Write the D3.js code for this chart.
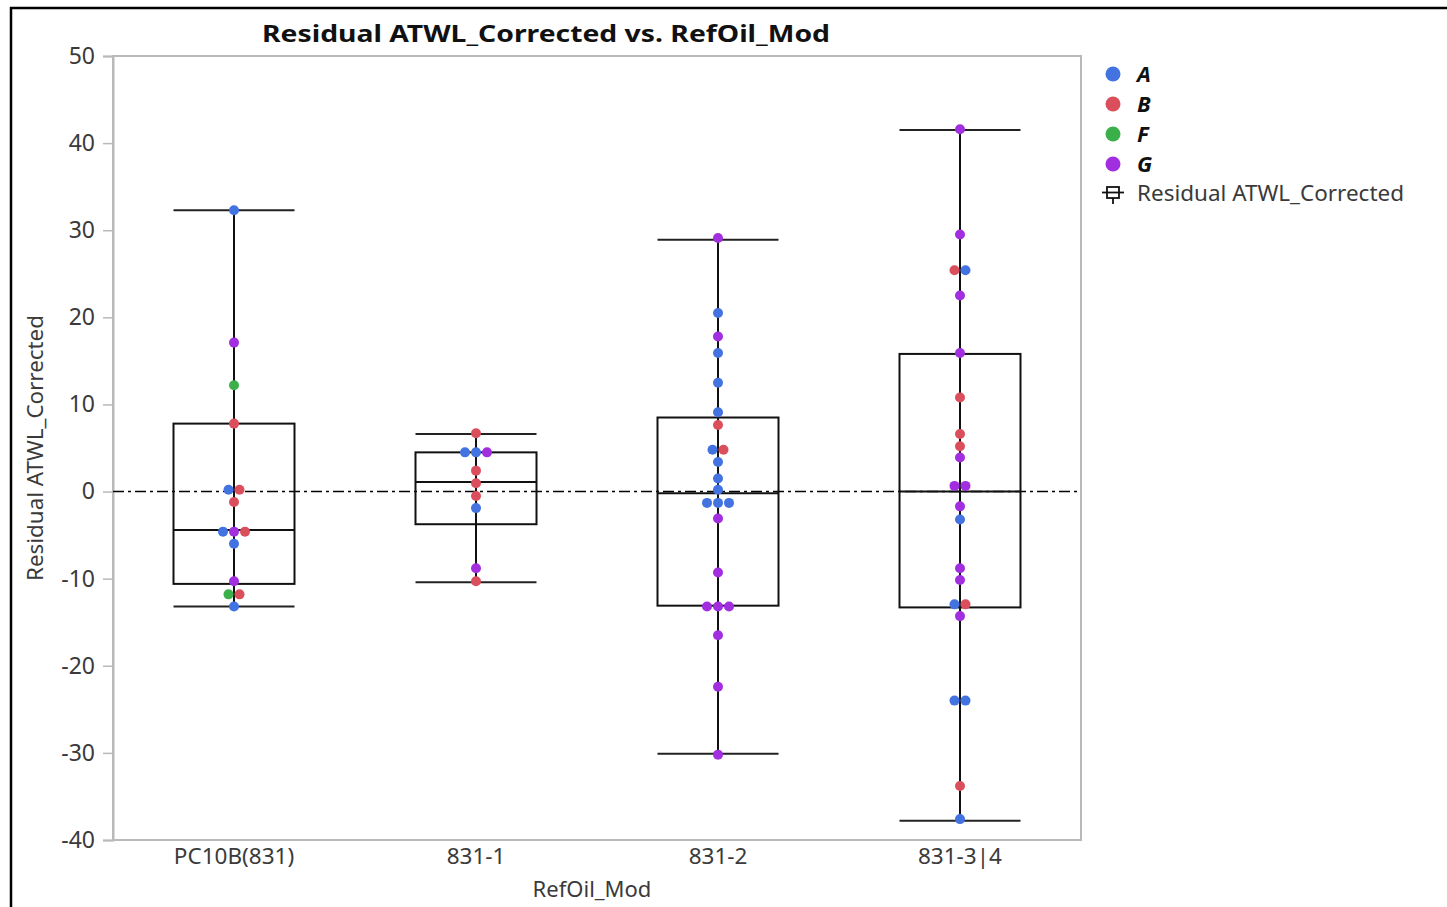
<!DOCTYPE html>
<html>
<head>
<meta charset="utf-8">
<script src="https://cdn.jsdelivr.net/npm/d3@7"></script>
<style>
	body{ margin:0; background:#fff; }
	svg{ display:block; }
</style>
</head>
<body>
<svg id="chart" width="1447" height="907"></svg>
<script>
const categories = ["PC10B(831)", "831-1", "831-2", "831-3|4"];
const groups = ["A", "B", "F", "G"];
const groupColors = ["#4373e0", "#db4f5c", "#3bb04a", "#a12fe0"];
const yTicks = [50, 40, 30, 20, 10, 0, -10, -20, -30, -40];

// box stats, one entry per category
const whiskerLow = [-13.2, -10.4, -30.1, -37.8];
const quartile1 = [-10.6, -3.75, -13.1, -13.3];
const medians = [-4.4, 1.1, -0.2, 0];
const quartile3 = [7.8, 4.5, 8.5, 15.8];
const whiskerHigh = [32.3, 6.6, 28.9, 41.5];

// points per category: [value, group], order inside a row goes left to right
const pointsPC10B = [[32.3,"A"],[17.1,"G"],[12.2,"F"],[7.8,"B"],[0.2,"A"],[0.2,"B"],[-1.2,"B"],
	[-4.6,"A"],[-4.6,"G"],[-4.6,"B"],[-6.0,"A"],[-10.3,"G"],[-11.8,"F"],[-11.8,"B"],[-13.2,"A"]];
const points831_1 = [[6.7,"B"],[4.5,"A"],[4.5,"A"],[4.5,"G"],[2.4,"B"],[0.95,"B"],[-0.5,"B"],
	[-1.9,"A"],[-8.8,"G"],[-10.3,"B"]];
const points831_2 = [[29.1,"G"],[20.5,"A"],[17.8,"G"],[15.9,"A"],[12.5,"A"],[9.1,"A"],[7.65,"B"],
	[4.8,"A"],[4.8,"B"],[3.4,"A"],[1.5,"A"],[0.2,"A"],[-1.3,"A"],[-1.3,"A"],[-1.3,"A"],
	[-3.1,"G"],[-9.3,"G"],[-13.2,"G"],[-13.2,"G"],[-13.2,"G"],[-16.5,"G"],[-22.4,"G"],[-30.2,"G"]];
const points831_34 = [[41.6,"G"],[29.5,"G"],[25.4,"B"],[25.4,"A"],[22.5,"G"],[15.9,"G"],[10.8,"B"],
	[6.6,"B"],[5.2,"B"],[3.9,"G"],[0.65,"G"],[0.65,"G"],[-1.7,"G"],[-3.2,"A"],[-8.8,"G"],
	[-10.15,"G"],[-12.95,"A"],[-12.95,"B"],[-14.3,"G"],[-24.0,"A"],[-24.0,"A"],[-33.8,"B"],[-37.6,"A"]];
const pointsByCategory = [pointsPC10B, points831_1, points831_2, points831_34];

const svg = d3.select("#chart"),
	fontFamily = "'Noto Sans', 'Open Sans', sans-serif",
	plotLeft = 113,
	plotRight = 1081,
	plotTop = 56,
	plotBottom = 840,
	dotRadius = 5,
	dotSpacing = 11,
	frameColor = "#b9b9b9",
	textColor = "#3a3a3a";

let x = d3.scaleBand().domain(categories).range([plotLeft, plotRight]),
	y = d3.scaleLinear().domain([-40, 50]).range([plotBottom, plotTop]),
	color = d3.scaleOrdinal().domain(groups).range(groupColors),
	boxWidth = x.bandwidth() * 0.5;

drawOuterBorder();
drawFrame();
drawAxes();
drawZeroLine();
drawBoxes();
drawPoints();
drawTitles();
drawLegend();

//thick black border of the screenshot window
function drawOuterBorder(){
	svg.append("rect")
		.attr("x", 11)
		.attr("y", 8)
		.attr("width", 1600)
		.attr("height", 1100)
		.attr("fill", "none")
		.attr("stroke", "#000")
		.attr("stroke-width", 2.5);
}

function drawFrame(){
	svg.append("rect")
		.attr("x", plotLeft)
		.attr("y", plotTop)
		.attr("width", plotRight - plotLeft)
		.attr("height", plotBottom - plotTop)
		.attr("fill", "none")
		.attr("stroke", frameColor)
		.attr("stroke-width", 2);
}

function drawAxes(){
	let yAxis = svg.append("g")
		.attr("transform", "translate(" + plotLeft + ",0)")
		.call(d3.axisLeft(y).tickValues(yTicks).tickSize(10).tickPadding(8)
			.tickFormat(function(d){ return String(d); }));
	yAxis.select(".domain").attr("stroke", frameColor).attr("stroke-width", 2);
	yAxis.selectAll(".tick line").attr("stroke", frameColor).attr("stroke-width", 1.5);
	yAxis.selectAll(".tick text")
		.attr("font-family", fontFamily)
		.attr("font-size", 23)
		.attr("fill", textColor);

	let xAxis = svg.append("g")
		.attr("transform", "translate(0," + plotBottom + ")")
		.call(d3.axisBottom(x).tickSize(0).tickPadding(8));
	xAxis.select(".domain").remove();
	xAxis.selectAll(".tick text")
		.attr("font-family", fontFamily)
		.attr("font-size", 22.5)
		.attr("fill", textColor);
}

function drawZeroLine(){
	svg.append("line")
		.attr("x1", plotLeft)
		.attr("x2", plotRight)
		.attr("y1", y(0))
		.attr("y2", y(0))
		.attr("stroke", "#000")
		.attr("stroke-width", 1.6)
		.attr("stroke-dasharray", "11,4,3,4");
}

function drawBoxes(){
	let boxes = svg.append("g").selectAll("g")
		.data(categories)
		.enter().append("g")
		.attr("class", "box");

	// whisker stems
	boxes.append("line")
		.attr("x1", function(d){ return x(d) + x.bandwidth()/2; })
		.attr("x2", function(d){ return x(d) + x.bandwidth()/2; })
		.attr("y1", function(d,i){ return y(whiskerHigh[i]); })
		.attr("y2", function(d,i){ return y(whiskerLow[i]); })
		.attr("stroke", "#111")
		.attr("stroke-width", 2);

	// caps
	[whiskerHigh, whiskerLow].forEach(function(values){
		boxes.append("line")
			.attr("x1", function(d){ return x(d) + (x.bandwidth() - boxWidth)/2; })
			.attr("x2", function(d){ return x(d) + (x.bandwidth() + boxWidth)/2; })
			.attr("y1", function(d,i){ return y(values[i]); })
			.attr("y2", function(d,i){ return y(values[i]); })
			.attr("stroke", "#222")
			.attr("stroke-width", 2);
	});

	boxes.append("rect")
		.attr("x", function(d){ return x(d) + (x.bandwidth() - boxWidth)/2; })
		.attr("y", function(d,i){ return y(quartile3[i]); })
		.attr("width", boxWidth)
		.attr("height", function(d,i){ return y(quartile1[i]) - y(quartile3[i]); })
		.attr("fill", "none")
		.attr("stroke", "#111")
		.attr("stroke-width", 2);

	boxes.append("line")
		.attr("x1", function(d){ return x(d) + (x.bandwidth() - boxWidth)/2; })
		.attr("x2", function(d){ return x(d) + (x.bandwidth() + boxWidth)/2; })
		.attr("y1", function(d,i){ return y(medians[i]); })
		.attr("y2", function(d,i){ return y(medians[i]); })
		.attr("stroke", "#111")
		.attr("stroke-width", 2);
}

//points sharing a value sit side by side in a row
function drawPoints(){
	let placed = [];
	pointsByCategory.forEach(function(points, ci){
		let rows = d3.group(points, function(p){ return p[0]; }),
			center = x(categories[ci]) + x.bandwidth()/2;
		rows.forEach(function(row){
			row.forEach(function(p, j){
				placed.push({
					cx: center + (j - (row.length - 1)/2) * dotSpacing,
					value: p[0],
					group: p[1]
				});
			});
		});
	});

	svg.append("g").selectAll("circle")
		.data(placed)
		.enter().append("circle")
		.attr("cx", function(d){ return d.cx; })
		.attr("cy", function(d){ return y(d.value); })
		.attr("r", dotRadius)
		.attr("fill", function(d){ return color(d.group); });
}

function drawTitles(){
	svg.append("text")
		.attr("x", 546)
		.attr("y", 42)
		.attr("text-anchor", "middle")
		.attr("font-family", fontFamily)
		.attr("font-size", 24)
		.attr("font-weight", "bold")
		.attr("fill", "#111")
		.attr("textLength", 568)
		.attr("lengthAdjust", "spacingAndGlyphs")
		.text("Residual ATWL_Corrected vs. RefOil_Mod");

	svg.append("text")
		.attr("x", 592)
		.attr("y", 897)
		.attr("text-anchor", "middle")
		.attr("font-family", fontFamily)
		.attr("font-size", 22)
		.attr("fill", textColor)
		.text("RefOil_Mod");

	svg.append("text")
		.attr("transform", "translate(43," + 448 + ") rotate(-90)")
		.attr("text-anchor", "middle")
		.attr("font-family", fontFamily)
		.attr("font-size", 21)
		.attr("fill", textColor)
		.attr("textLength", 266)
		.attr("lengthAdjust", "spacingAndGlyphs")
		.text("Residual ATWL_Corrected");
}

function drawLegend(){
	let legend = svg.append("g").attr("transform", "translate(1113,74)"),
		rowHeight = 30;

	let items = legend.selectAll("g")
		.data(groups)
		.enter().append("g")
		.attr("transform", function(d,i){ return "translate(0," + i*rowHeight + ")"; });

	items.append("circle")
		.attr("r", 7.5)
		.attr("fill", function(d){ return color(d); });

	items.append("text")
		.attr("x", 24)
		.attr("dy", "0.35em")
		.attr("font-family", fontFamily)
		.attr("font-size", 22)
		.attr("font-weight", "bold")
		.attr("font-style", "italic")
		.attr("fill", "#111")
		.text(function(d){ return d; });

	// box plot icon
	let icon = legend.append("g").attr("transform", "translate(0," + groups.length*rowHeight + ")");
	icon.append("rect")
		.attr("x", -6).attr("y", -7)
		.attr("width", 12).attr("height", 11)
		.attr("fill", "none").attr("stroke", "#111").attr("stroke-width", 1.8);
	icon.append("line")
		.attr("x1", -11).attr("x2", 11).attr("y1", -1.5).attr("y2", -1.5)
		.attr("stroke", "#111").attr("stroke-width", 1.8);
	icon.append("line")
		.attr("x1", 0).attr("x2", 0).attr("y1", 4).attr("y2", 10)
		.attr("stroke", "#111").attr("stroke-width", 1.8);
	icon.append("text")
		.attr("x", 24)
		.attr("dy", "0.35em")
		.attr("font-family", fontFamily)
		.attr("font-size", 21)
		.attr("fill", textColor)
		.attr("textLength", 267)
		.attr("lengthAdjust", "spacingAndGlyphs")
		.text("Residual ATWL_Corrected");
}
</script>
</body>
</html>
